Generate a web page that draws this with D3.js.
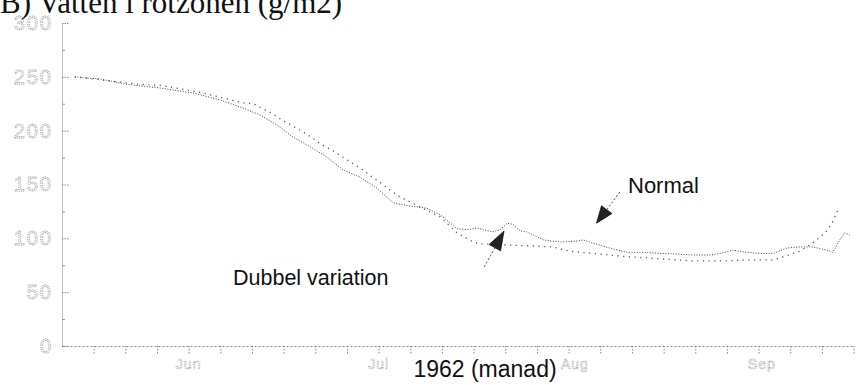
<!DOCTYPE html>
<html><head><meta charset="utf-8">
<script src="https://cdn.jsdelivr.net/npm/d3@7"></script>
<style>html,body{margin:0;padding:0;background:#fff;overflow:hidden}</style>
</head><body>
<svg id="c" width="858" height="385"></svg>
<script>
// ---- data (day 0 = 12 May 1962) ----
const titleText = "B) Vatten i rotzonen (g/m2)";
const xTitle = "1962 (manad)";
const yTicks = [0, 50, 100, 150, 200, 250, 300];
const yMinorTicks = [25, 75, 125, 175, 225, 275];
const xTickDays = d3.range(5, 126, 5);
const monthLabels = ["Jun", "Jul", "Aug", "Sep"];
const monthDays = [20, 50, 81, 110.5];

// "Dubbel variation" series (denser dots)
const dubbelDays = [2, 6, 10.3, 15.5, 20.7, 25, 28.1, 31.3, 34, 36.5, 39.2, 41.8, 44.4, 47, 49.7, 52.3, 55, 57.6, 59.7, 62.4, 64, 65.5, 68, 69.2, 70.3, 71.2, 72.3, 73.4, 76, 78.6, 81.3, 82.3, 83.8, 86.5, 89.2, 91.7, 94.4, 97.1, 99.6, 102.3, 103.9, 106, 108.2, 110.2, 112.3, 114.5, 116.5, 118.6, 120.8, 121.7, 122.8, 123.6, 124.4];
const dubbelVals = [250, 248, 243, 239.6, 235, 228.5, 222, 214.5, 205, 194, 185, 175.5, 163.5, 157, 146.7, 133, 130, 128, 122, 109, 108, 109.6, 106, 108, 114, 113, 107, 106, 98.5, 96.6, 97.5, 98.5, 95.7, 91, 87, 87, 86, 85.5, 84.5, 84.5, 86, 89, 87, 86, 86, 91, 92, 92, 89, 87, 98.5, 105, 103];

// "Normal" series (sparse dots)
const normalDays = [2, 12.3, 15.8, 22.3, 28.4, 30.2, 33.2, 34.7, 38, 39.6, 41, 42.6, 45, 47.5, 49, 50.2, 52.9, 57.6, 59.7, 62.4, 64.9, 66, 69.2, 73.9, 77.5, 80.2, 83.8, 89.2, 94.4, 99.6, 105, 108.2, 112.3, 113.4, 116.5, 118.6, 120.5, 121.5, 122.5];
const normalVals = [250, 243, 242, 235, 226, 225, 216, 210, 199, 193, 187, 182, 173, 163.5, 157, 152, 140, 126, 120, 105, 96.6, 95, 94, 93, 92, 88, 86, 83, 81, 79, 79, 80, 80, 82, 88, 96, 105, 113, 126];

// annotations: [label, tipDay, tipValue]
const annDubbel = ["Dubbel variation", 69.8, 106.8];
const annNormal = ["Normal", 84.4, 114];

// ---- drawing ----
const svg = d3.select("#c");
const x = d3.scaleLinear().domain([0, 125]).range([62, 853.6]);
const y = d3.scaleLinear().domain([0, 300]).range([346, 23]);
const font = "'Liberation Sans',Arial,sans-serif";

// title
svg.append("text").attr("x", 0).attr("y", 13)
  .attr("font-family", "'Liberation Serif','Times New Roman',serif")
  .attr("font-size", 31).attr("fill", "#111").text(titleText);

// y axis
const yAxis = d3.axisLeft(y).tickValues(yTicks).tickSizeInner(-7).tickSizeOuter(0).tickPadding(9);
const gy = svg.append("g").attr("transform", "translate(62,0)").call(yAxis);
gy.select(".domain").attr("stroke", "#888").attr("stroke-dasharray", "1,1");
gy.selectAll(".tick line").attr("stroke", "#888").attr("stroke-dasharray", "1.5,1");
gy.selectAll(".tick text")
  .attr("font-family", font).attr("font-size", 20)
  .attr("letter-spacing", 2).attr("fill", "none").attr("stroke", "#999")
  .attr("stroke-width", 0.8).attr("stroke-dasharray", "1.2,0.9");
const yMinor = d3.axisLeft(y).tickValues(yMinorTicks).tickSizeInner(-3).tickSizeOuter(0).tickFormat("");
const gym = svg.append("g").attr("transform", "translate(62,0)").call(yMinor);
gym.select(".domain").remove();
gym.selectAll(".tick line").attr("stroke", "#999");

// x axis
const xAxis = d3.axisBottom(x).tickValues(xTickDays).tickSizeInner(9).tickSizeOuter(0).tickFormat("");
const gx = svg.append("g").attr("transform", "translate(0,346)").call(xAxis);
gx.select(".domain").attr("stroke", "#888").attr("stroke-dasharray", "2,2");
gx.selectAll(".tick line").attr("stroke", "#888").attr("stroke-dasharray", "1.5,1.5");

// month labels
svg.append("g").selectAll("text").data(monthLabels).join("text")
  .attr("x", (d, i) => x(monthDays[i])).attr("y", 369)
  .attr("text-anchor", "middle")
  .attr("font-family", font).attr("font-size", 14)
  .attr("letter-spacing", 1).attr("fill", "none").attr("stroke", "#999")
  .attr("stroke-width", 0.7).attr("stroke-dasharray", "1,0.8")
  .text(d => d);

// x title
svg.append("text").attr("x", 485).attr("y", 377)
  .attr("font-family", font).attr("font-size", 23)
  .attr("fill", "#111").attr("text-anchor", "middle").text(xTitle);

// lines
const line = d3.line().x(d => x(d[0])).y(d => y(d[1])).curve(d3.curveLinear);
const dubbel = dubbelDays.map((d, i) => [d, dubbelVals[i]]);
const normal = normalDays.map((d, i) => [d, normalVals[i]]);
svg.append("path").datum(normal).attr("d", line).attr("fill", "none")
  .attr("stroke", "#555").attr("stroke-width", 1.3).attr("stroke-dasharray", "1.2,4.5");
svg.append("path").datum(dubbel).attr("d", line).attr("fill", "none")
  .attr("stroke", "#444").attr("stroke-width", 1).attr("stroke-dasharray", "1,1.6");

// annotations
function arrow(tipX, tipY, dx, dy, len, tailLen) {
  const n = Math.hypot(dx, dy), ux = dx / n, uy = dy / n;
  const px = -uy, py = ux;
  const bx = tipX - ux * len, by = tipY - uy * len;
  svg.append("path")
    .attr("d", `M${tipX},${tipY}L${bx + px * 6.5},${by + py * 6.5}L${bx - px * 6.5},${by - py * 6.5}Z`)
    .attr("fill", "#222").attr("stroke", "#111").attr("stroke-width", 0.8);
  svg.append("path")
    .attr("d", `M${bx},${by}L${bx - ux * tailLen},${by - uy * tailLen}`)
    .attr("stroke", "#555").attr("stroke-width", 1).attr("stroke-dasharray", "2,2");
}
arrow(x(annDubbel[1]), y(annDubbel[2]), 0.55, -1, 19, 24);
svg.append("text").attr("x", 233).attr("y", 285).attr("font-family", font)
  .attr("font-size", 21.5).attr("fill", "#111").text(annDubbel[0]);
arrow(x(annNormal[1]), y(annNormal[2]), -0.75, 1, 17, 22);
svg.append("text").attr("x", 628).attr("y", 193).attr("font-family", font)
  .attr("font-size", 22).attr("fill", "#111").text(annNormal[0]);
</script>
</body></html>
